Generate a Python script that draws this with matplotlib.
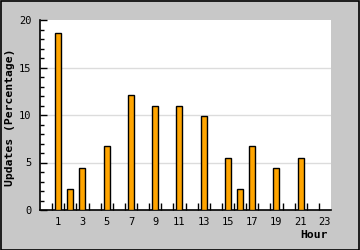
import matplotlib
matplotlib.use("Agg")
import matplotlib.pyplot as plt
from matplotlib.patches import Rectangle

hours = list(range(24))
values = [0, 18.6, 2.2, 4.4, 0, 6.7, 0, 12.1, 0, 11.0, 0, 11.0, 0, 9.9,
          0, 5.5, 2.2, 6.7, 0, 4.4, 0, 5.5, 0, 0]
xtick_labels = [str(h) for h in range(1, 24, 2)]
ytick_values = [0, 5, 10, 15, 20]

W, H = 360, 250
fig = plt.figure(figsize=(W / 100, H / 100), dpi=100)
fig.patch.set_facecolor("#c8c8c8")
fig.patches.append(Rectangle((0.5 / W, 0.5 / H), 1 - 1.5 / W, 1 - 1.5 / H,
                             transform=fig.transFigure, fill=False,
                             edgecolor="black", linewidth=1.2, zorder=10))

left, right, top, bottom = 40, 331, 20, 210
ax = fig.add_axes([left / W, (H - bottom) / H, (right - left) / W, (bottom - top) / H])
ax.set_facecolor("white")

bar_h = [h for h, v in zip(hours, values) if v > 0]
bar_v = [v for v in values if v > 0]
ax.bar(bar_h, bar_v, width=0.5, color="#ffa500", edgecolor="black",
       linewidth=1.0, zorder=3)

ax.set_xlim(-0.5, 23.5)
ax.set_ylim(0, 20)

for y in [5, 10, 15]:
    ax.axhline(y, color="#dcdcdc", linewidth=1.0, zorder=1)

mono = "DejaVu Sans Mono"
ax.set_xticks(list(range(1, 24, 2)))
ax.set_xticklabels(xtick_labels, fontfamily=mono, fontsize=7.5)
ax.set_xticks([h - 0.5 for h in range(1, 24)], minor=True)
ax.tick_params(axis="x", which="major", length=0, pad=5)
ax.tick_params(axis="x", which="minor", direction="in", length=5, width=1)

ax.set_yticks(ytick_values)
ax.set_yticklabels([str(v) for v in ytick_values], fontfamily=mono, fontsize=7.5)
ax.set_yticks([v for v in range(21) if v % 5 != 0], minor=True)
ax.tick_params(axis="y", which="major", direction="in", length=5, width=1, pad=6)
ax.tick_params(axis="y", which="minor", direction="in", length=3, width=1)

for s in ["top", "right"]:
    ax.spines[s].set_visible(False)
for s in ["left", "bottom"]:
    ax.spines[s].set_linewidth(1.2)

fig.text(10 / W, 1 - 117 / H, "Updates (Percentage)", rotation=90,
         fontfamily=mono, fontweight="bold", fontsize=8.2,
         ha="center", va="center")
fig.text(328 / W, 1 - 235 / H, "Hour", fontfamily=mono, fontweight="bold",
         fontsize=8.2, ha="right", va="center")

fig.savefig("out.png", dpi=100, facecolor=fig.get_facecolor())
